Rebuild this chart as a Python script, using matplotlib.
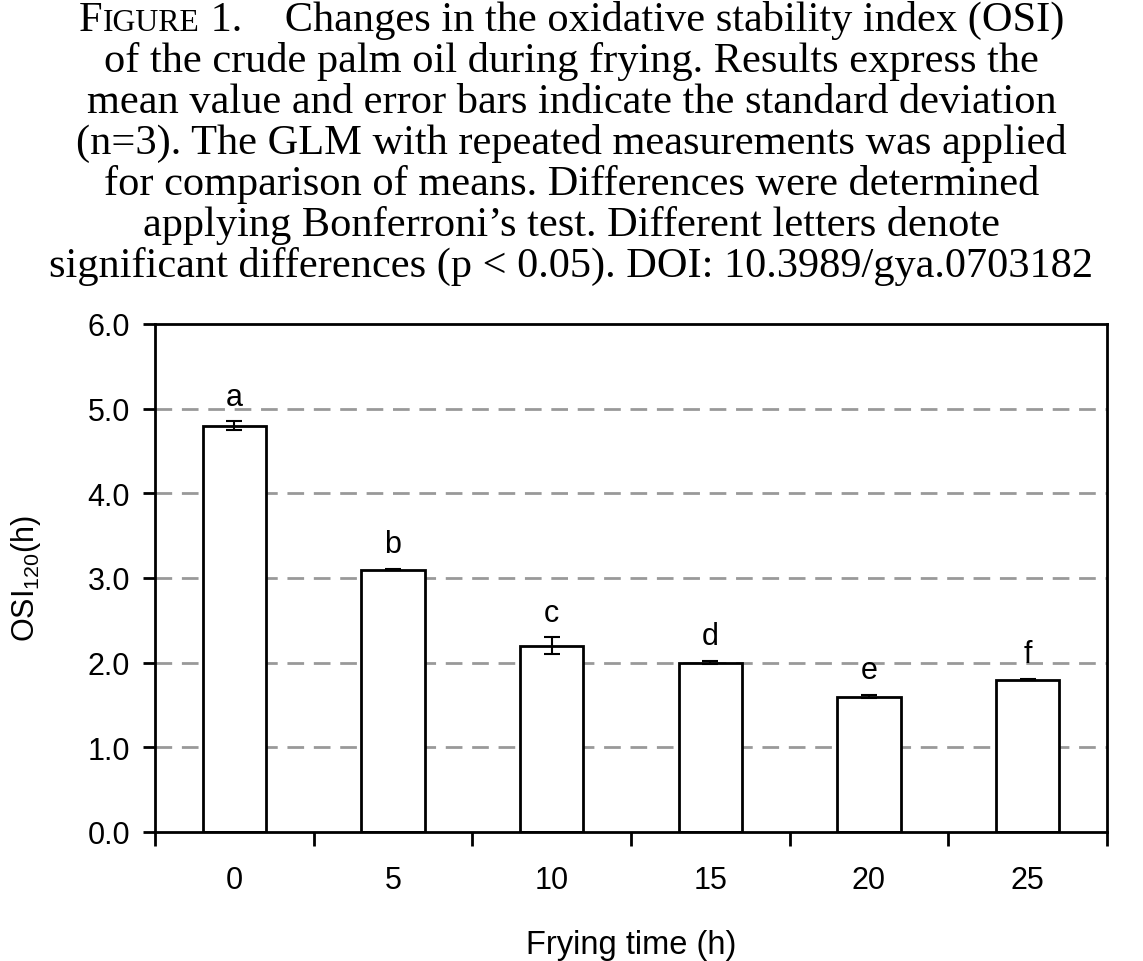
import matplotlib
matplotlib.use("Agg")
import matplotlib.pyplot as plt
import numpy as np

# data
frying_time = ["0", "5", "10", "15", "20", "25"]
osi_mean = [4.80, 3.10, 2.20, 2.00, 1.60, 1.80]
osi_sd = [0.05, 0.01, 0.10, 0.02, 0.02, 0.005]
letters = ["a", "b", "c", "d", "e", "f"]

caption = [
    "of the crude palm oil during frying. Results express the",
    "mean value and error bars indicate the standard deviation",
    "(n=3). The GLM with repeated measurements was applied",
    "for comparison of means. Differences were determined",
    "applying Bonferroni\u2019s test. Different letters denote",
    "significant differences (p < 0.05). DOI: 10.3989/gya.0703182",
]

sans = "Liberation Sans"
serif = "Liberation Serif"

fig = plt.figure(figsize=(11.43, 9.62), dpi=100)
ax = fig.add_axes([0.1356, 0.1341, 0.8329, 0.5281])

x = np.arange(len(frying_time))
ax.bar(x, osi_mean, width=0.4, color="white", edgecolor="black", linewidth=2, zorder=2)
ax.errorbar(x, osi_mean, yerr=osi_sd, fmt="none", ecolor="black", elinewidth=1.5,
            capsize=5.5, capthick=1.5, zorder=3)
for xi, m, s, l in zip(x, osi_mean, osi_sd, letters):
    ax.annotate(l, (xi, m + s), xytext=(0, 7), textcoords="offset points",
                ha="center", va="bottom", fontsize=22, family=sans)

ax.set_xlim(-0.5, len(x) - 0.5)
ax.set_ylim(0, 6)
ax.set_yticks(np.arange(0, 6.1, 1.0))
ax.set_yticklabels([f"{v:.1f}" for v in np.arange(0, 6.1, 1.0)])
ax.set_xticks(x)
ax.set_xticklabels(frying_time)
ax.set_xticks(np.arange(-0.5, len(x)), minor=True)
ax.tick_params(axis="x", which="major", length=0, pad=24)
ax.tick_params(axis="x", which="minor", length=10, width=2, direction="out")
ax.tick_params(axis="y", length=9, width=2, direction="out", pad=9)
for lab in ax.get_xticklabels() + ax.get_yticklabels():
    lab.set_family(sans)
    lab.set_fontsize(22)

for y in [1, 2, 3, 4, 5]:
    ax.axhline(y, color="#999999", linestyle=(0, (6, 3.5)), linewidth=2, zorder=1)
for sp in ax.spines.values():
    sp.set_linewidth(2)

ax.set_xlabel("Frying time (h)", fontsize=23.5, family=sans, labelpad=24)
ax.set_ylabel("OSI$_{\\mathregular{120}}$(h)", fontsize=22, family=sans, labelpad=32)

# caption in serif, first line with small caps "Figure"
cap_size = 30.5
fig.canvas.draw()
r = fig.canvas.get_renderer()
pieces = [("F", cap_size), ("IGURE", cap_size * 0.75), (" 1.    Changes in the oxidative stability index (OSI)", cap_size)]
widths = []
for s, sz in pieces:
    t = fig.text(0, 0, s, fontsize=sz, family=serif)
    widths.append(t.get_window_extent(r).width)
    t.remove()
xpos = (1143 - sum(widths)) / 2
ytop = 962 - 31
for (s, sz), w in zip(pieces, widths):
    fig.text(xpos / 1143, ytop / 962, s, fontsize=sz, family=serif, va="baseline")
    xpos += w
for i, line in enumerate(caption):
    fig.text(0.5, (ytop - 41 * (i + 1)) / 962, line, fontsize=cap_size, family=serif,
             ha="center", va="baseline")

fig.savefig("out.png", dpi=100)
